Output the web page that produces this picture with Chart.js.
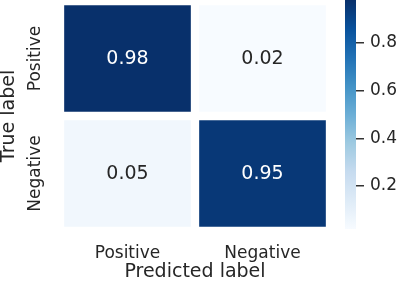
<!DOCTYPE html>
<html>
<head>
<meta charset="utf-8">
<script src="https://cdn.jsdelivr.net/npm/chart.js@4"></script>
<style>
  body { margin: 0; background: #fff; }
  #wrap { position: relative; width: 400px; height: 284px; }
  #main { position: absolute; left: 0; top: 0; width: 335px; height: 284px; }
  #cbar { position: absolute; left: 335px; top: 0; width: 65px; height: 284px; }
</style>
</head>
<body>
<div id="wrap">
  <div id="main"><canvas id="heat"></canvas></div>
  <div id="cbar"><canvas id="bar"></canvas></div>
</div>
<script>
// confusion matrix data
const trueLabels = ['Positive', 'Negative']
const predLabels = ['Positive', 'Negative']
const values = [
  [0.98, 0.02],
  [0.05, 0.95]
]
const colorbarTicks = [0.2, 0.4, 0.6, 0.8]

const FONT = 'DejaVu Sans'
const TXT = '#262626'

// matplotlib "Blues"
const bluesStops = [
  [247, 251, 255], [222, 235, 247], [198, 219, 239], [158, 202, 225],
  [107, 174, 214], [66, 146, 198], [33, 113, 181], [8, 81, 156], [8, 48, 107]
]
function blues(t) {
  t = Math.max(0, Math.min(1, t))
  let p = t * (bluesStops.length - 1)
  let i = Math.min(Math.floor(p), bluesStops.length - 2)
  let f = p - i
  let a = bluesStops[i], b = bluesStops[i + 1]
  let c = a.map((v, k) => Math.round(v + (b[k] - v) * f))
  return `rgb(${c[0]}, ${c[1]}, ${c[2]})`
}

let flat = values.flat()
let vmin = Math.min(...flat)
let vmax = Math.max(...flat)
let norm = v => (vmax - vmin) ? (v - vmin) / (vmax - vmin) : 0
let n = trueLabels.length

// one dataset per row, floating bars on a 0..n y scale
let datasets = values.map((row, i) => ({
  label: trueLabels[i],
  data: row.map(() => [n - 1 - i, n - i]),
  backgroundColor: row.map(v => blues(norm(v))),
  borderColor: '#ffffff',
  borderWidth: 4.5,
  borderSkipped: false,
  grouped: false,
  barPercentage: 1,
  categoryPercentage: 1
}))

const cellText = {
  id: 'cellText',
  afterDatasetsDraw(chart) {
    const ctx = chart.ctx
    ctx.save()
    ctx.font = '19px "' + FONT + '"'
    ctx.textAlign = 'center'
    ctx.textBaseline = 'middle'
    values.forEach((row, i) => {
      let meta = chart.getDatasetMeta(i)
      row.forEach((v, j) => {
        let pt = meta.data[j].getCenterPoint()
        ctx.fillStyle = norm(v) > 0.5 ? '#ffffff' : TXT
        ctx.fillText(v.toFixed(2), pt.x, pt.y + 1)
      })
    })
    // rotated y tick labels
    let ys = chart.scales.y
    ctx.font = '17px "' + FONT + '"'
    ctx.fillStyle = TXT
    trueLabels.forEach((lab, i) => {
      let y = ys.getPixelForValue(n - 1 - i + 0.5)
      ctx.save()
      ctx.translate(ys.right - 24, y)
      ctx.rotate(-Math.PI / 2)
      ctx.fillText(lab, 0, 0)
      ctx.restore()
    })
    ctx.restore()
  }
}

new Chart(document.getElementById('heat'), {
  type: 'bar',
  data: { labels: predLabels, datasets: datasets },
  options: {
    responsive: true,
    maintainAspectRatio: false,
    animation: false,
    layout: { padding: { top: 1, right: 5, bottom: 0, left: 0 } },
    plugins: { legend: { display: false }, tooltip: { enabled: false } },
    scales: {
      x: {
        grid: { display: false, drawTicks: false },
        border: { display: false },
        ticks: { color: TXT, font: { family: FONT, size: 17 }, padding: 12, maxRotation: 0 },
        title: { display: true, text: 'Predicted label', color: TXT, font: { family: FONT, size: 19 }, padding: { top: 0, bottom: 1 } },
        afterFit: s => { s.height = 53 }
      },
      y: {
        min: 0,
        max: n,
        grid: { display: false, drawTicks: false },
        border: { display: false },
        ticks: { display: false },
        title: { display: true, text: 'True label', color: TXT, font: { family: FONT, size: 19, lineHeight: 1 }, padding: 0 },
        afterFit: s => { s.width = 60 }
      }
    }
  },
  plugins: [cellText]
})

// colorbar
new Chart(document.getElementById('bar'), {
  type: 'bar',
  data: {
    labels: [''],
    datasets: [{
      data: [[vmin, vmax]],
      backgroundColor: c => {
        let area = c.chart.chartArea
        if (!area) return blues(0.5)
        let g = c.chart.ctx.createLinearGradient(0, area.bottom, 0, area.top)
        bluesStops.forEach((s, k) => g.addColorStop(k / (bluesStops.length - 1), `rgb(${s[0]}, ${s[1]}, ${s[2]})`))
        return g
      },
      borderWidth: 0,
      barPercentage: 1,
      categoryPercentage: 1
    }]
  },
  options: {
    responsive: true,
    maintainAspectRatio: false,
    animation: false,
    layout: { padding: { top: 0, right: 0, bottom: 55, left: 10 } },
    plugins: { legend: { display: false }, tooltip: { enabled: false } },
    scales: {
      x: { display: false },
      y: {
        position: 'right',
        min: vmin,
        max: vmax,
        afterBuildTicks: s => { s.ticks = colorbarTicks.map(v => ({ value: v })) },
        grid: { drawOnChartArea: false, drawTicks: true, tickLength: 8, color: '#333', lineWidth: 1.5 },
        border: { display: false },
        ticks: { color: TXT, font: { family: FONT, size: 17 }, padding: 6, callback: v => v.toFixed(1) },
        afterFit: s => { s.width = 44; s.paddingTop = 0; s.paddingBottom = 0 }
      }
    }
  }
})
</script>
</body>
</html>
